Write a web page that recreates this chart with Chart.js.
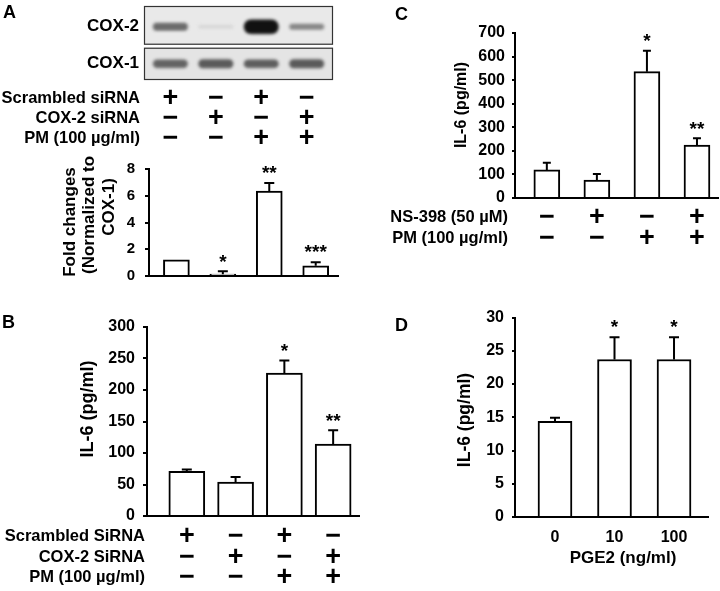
<!DOCTYPE html>
<html>
<head>
<meta charset="utf-8">
<script src="https://cdn.jsdelivr.net/npm/chart.js@4.4.1/dist/chart.umd.min.js"></script>
<style>
  html, body { margin: 0; padding: 0; background: #fff; }
  #fig { position: relative; width: 720px; height: 591px; overflow: hidden; font-family: "Liberation Sans", Arial, sans-serif; }
  #fig canvas { position: absolute; }
  .tag { position: absolute; font-weight: bold; font-size: 18px; line-height: 18px; color: #000; }
</style>
</head>
<body>
<div id="fig">
  <canvas id="blot" width="360" height="150" style="left:0;top:0"></canvas>
  <canvas id="chartA" width="360" height="145" style="left:0;top:150px"></canvas>
  <canvas id="chartB" width="360" height="296" style="left:0;top:295px"></canvas>
  <canvas id="chartC" width="360" height="250" style="left:360px;top:0"></canvas>
  <canvas id="chartD" width="360" height="291" style="left:360px;top:300px"></canvas>
  <div class="tag" style="left:3px;top:3px">A</div>
  <div class="tag" style="left:2px;top:313px">B</div>
  <div class="tag" style="left:395px;top:5px">C</div>
  <div class="tag" style="left:395px;top:316px">D</div>
</div>
<script>
const FONT = '"Liberation Sans", Arial, sans-serif';
const MINUS = '\u2212';
Chart.defaults.font.family = FONT;
Chart.defaults.font.weight = 'bold';
Chart.defaults.color = '#000';
Chart.defaults.animation = false;

// A: western blot (relative band intensity per lane)
const lanes = [1, 2, 3, 4];
const cox2Band = [0.58, 0.1, 1.0, 0.45];
const cox1Band = [0.62, 0.66, 0.64, 0.66];

// A: densitometry
const foldChange = [1.2, 0.14, 6.35, 0.76];
const foldErr = [0, 0.21, 0.6, 0.27];
const foldStars = ['', '*', '**', '***'];
const foldTicks = [0, 2, 4, 6, 8];
const rowsA = ['Scrambled siRNA', 'COX-2 siRNA', 'PM (100 µg/ml)'];
const scrambledA = ['+', MINUS, '+', MINUS];
const cox2SiA = [MINUS, '+', MINUS, '+'];
const pmA = [MINUS, MINUS, '+', '+'];

// B: IL-6 with siRNA
const il6B = [71, 54, 227, 114];
const il6BErr = [3, 8, 20, 22];
const starsB = ['', '', '*', '**'];
const ticksB = [0, 50, 100, 150, 200, 250, 300];
const rowsB = ['Scrambled SiRNA', 'COX-2 SiRNA', 'PM (100 µg/ml)'];
const scrambledB = ['+', MINUS, '+', MINUS];
const cox2SiB = [MINUS, '+', MINUS, '+'];
const pmB = [MINUS, MINUS, '+', '+'];

// C: IL-6 with NS-398
const il6C = [119, 76, 536, 225];
const il6CErr = [31, 26, 89, 28];
const starsC = ['', '', '*', '**'];
const ticksC = [0, 100, 200, 300, 400, 500, 600, 700];
const rowsC = ['NS-398 (50 µM)', 'PM (100 µg/ml)'];
const ns398C = [MINUS, '+', MINUS, '+'];
const pmC = [MINUS, MINUS, '+', '+'];

// D: IL-6 with PGE2
const pge2Dose = ['0', '10', '100'];
const il6D = [14.4, 23.7, 23.7];
const il6DErr = [0.55, 3.35, 3.35];
const starsD = ['', '*', '*'];
const ticksD = [0, 5, 10, 15, 20, 25, 30];

function bandImage(level) {
  const c = document.createElement('canvas');
  c.width = 50; c.height = 26;
  const g = c.getContext('2d');
  const shade = Math.round(232 - 215 * level);
  const h = 2.5 + 12 * Math.pow(level, 1.5);
  const w = 35;
  g.filter = 'blur(1.5px)';
  g.fillStyle = `rgb(${shade},${shade},${shade})`;
  g.beginPath();
  g.roundRect(25 - w / 2, 13 - h / 2, w, h, h / 2);
  g.fill();
  return c;
}

function drawTable(ctx, chart, rows, signs, labelX, rowY) {
  const x = chart.scales.x;
  ctx.save();
  ctx.fillStyle = '#000';
  ctx.textBaseline = 'middle';
  rows.forEach((label, r) => {
    ctx.font = `bold 16.5px ${FONT}`;
    ctx.textAlign = 'right';
    ctx.fillText(label, labelX, rowY[r]);
    ctx.font = `bold 27px ${FONT}`;
    ctx.textAlign = 'center';
    signs[r].forEach((s, i) => ctx.fillText(s, x.getPixelForValue(i + 1), rowY[r] + 1));
  });
  ctx.restore();
}

function drawVTitle(ctx, lines, size) {
  ctx.save();
  ctx.fillStyle = '#000';
  ctx.font = `bold ${size}px ${FONT}`;
  ctx.textAlign = 'center';
  ctx.textBaseline = 'middle';
  lines.forEach(l => {
    ctx.save();
    ctx.translate(l.x, l.y);
    ctx.rotate(-Math.PI / 2);
    ctx.fillText(l.text, 0, 0);
    ctx.restore();
  });
  ctx.restore();
}

const blotFrame = {
  id: 'blotFrame',
  beforeDatasetsDraw(chart) {
    const { ctx, chartArea: a, scales: { y } } = chart;
    const mid = y.getPixelForValue(0.5);
    ctx.save();
    ctx.fillStyle = '#e9e9e9';
    ctx.fillRect(a.left, a.top, a.right - a.left, mid - 0.5 - a.top);
    ctx.fillStyle = '#e4e4e4';
    ctx.fillRect(a.left, mid + 2.5, a.right - a.left, a.bottom - mid - 2.5);
    ctx.restore();
  },
  afterDatasetsDraw(chart) {
    const { ctx, chartArea: a, scales: { y } } = chart;
    const mid = y.getPixelForValue(0.5);
    ctx.save();
    ctx.strokeStyle = '#333';
    ctx.lineWidth = 1.2;
    ctx.strokeRect(a.left + 0.5, a.top + 0.5, a.right - a.left - 1, mid - 1.5 - a.top);
    ctx.strokeRect(a.left + 0.5, mid + 3, a.right - a.left - 1, a.bottom - mid - 3.5);
    ctx.fillStyle = '#000';
    ctx.font = `bold 17px ${FONT}`;
    ctx.textAlign = 'right';
    ctx.textBaseline = 'middle';
    chart.data.datasets.forEach(ds => ctx.fillText(ds.label, a.left - 5, y.getPixelForValue(ds.data[0].y)));
    ctx.restore();
    drawTable(ctx, chart, rowsA, [scrambledA, cox2SiA, pmA], 140, [98, 118, 138]);
  }
};

new Chart(document.getElementById('blot'), {
  type: 'scatter',
  data: {
    datasets: [
      { label: 'COX-2', data: lanes.map(x => ({ x, y: 1 })), pointStyle: cox2Band.map(bandImage), pointRadius: 5 },
      { label: 'COX-1', data: lanes.map(x => ({ x, y: 0 })), pointStyle: cox1Band.map(bandImage), pointRadius: 5 }
    ]
  },
  options: {
    responsive: false,
    events: [],
    layout: { padding: { left: 144, right: 27, top: 2, bottom: 70 } },
    plugins: { legend: { display: false }, tooltip: { enabled: false } },
    scales: {
      x: { type: 'linear', display: false, min: 0.42, max: 4.58 },
      y: { type: 'linear', display: false, min: -0.44, max: 1.56 }
    }
  },
  plugins: [blotFrame]
});

function barPanel(id, c) {
  const decor = {
    id: 'decor',
    afterDatasetsDraw(chart) {
      const { ctx, scales: { y } } = chart;
      const bars = chart.getDatasetMeta(0).data;
      ctx.save();
      ctx.strokeStyle = '#000';
      ctx.fillStyle = '#000';
      ctx.lineWidth = 2;
      bars.forEach((bar, i) => {
        const top = y.getPixelForValue(c.values[i] + c.errors[i]);
        if (c.errors[i] > 0) {
          ctx.beginPath();
          ctx.moveTo(bar.x, bar.y);
          ctx.lineTo(bar.x, top);
          ctx.moveTo(bar.x - c.cap, top);
          ctx.lineTo(bar.x + c.cap, top);
          ctx.stroke();
        }
        if (c.stars[i]) {
          ctx.font = `bold 19px ${FONT}`;
          ctx.textAlign = 'center';
          ctx.textBaseline = 'middle';
          ctx.fillText(c.stars[i], bar.x, top - 9);
        }
      });
      ctx.restore();
    },
    afterDraw(chart) {
      const ctx = chart.ctx;
      drawVTitle(ctx, c.yTitle, c.yTitleSize);
      if (c.table) drawTable(ctx, chart, c.table.rows, c.table.signs, c.table.labelX, c.table.rowY);
      if (c.xTitle) {
        ctx.save();
        ctx.font = `bold 17px ${FONT}`;
        ctx.textAlign = 'center';
        ctx.textBaseline = 'middle';
        ctx.fillStyle = '#000';
        ctx.fillText(c.xTitle.text, c.xTitle.x, c.xTitle.y);
        ctx.restore();
      }
    }
  };
  return new Chart(document.getElementById(id), {
    type: 'bar',
    data: {
      datasets: [{
        data: c.values.map((v, i) => ({ x: i + 1, y: v })),
        backgroundColor: '#fff',
        borderColor: '#000',
        borderWidth: 2,
        borderSkipped: 'bottom',
        barThickness: c.barWidth
      }]
    },
    options: {
      responsive: false,
      events: [],
      layout: { padding: c.pad },
      plugins: { legend: { display: false }, tooltip: { enabled: false } },
      scales: {
        x: {
          type: 'linear', min: c.xMin, max: c.xMax, offset: false,
          grid: { display: false },
          border: { color: '#000', width: 2 },
          ticks: { display: !!c.xLabels, autoSkip: false, maxRotation: 0, padding: 3, font: { size: 16 }, color: '#000',
                   callback: v => c.xLabels ? c.xLabels[v - 1] : '' },
          afterBuildTicks: s => { s.ticks = c.values.map((_, i) => ({ value: i + 1 })); },
          afterFit: s => { s.height = c.xHeight; }
        },
        y: {
          min: c.ticks[0], max: c.ticks[c.ticks.length - 1],
          afterBuildTicks: s => { s.ticks = c.ticks.map(v => ({ value: v })); },
          afterFit: s => { s.width = c.yWidth; },
          grid: { display: true, drawOnChartArea: false, drawTicks: true, tickLength: c.tickLen, color: '#000', lineWidth: 2 },
          border: { color: '#000', width: 2 },
          ticks: { autoSkip: false, z: 1, padding: c.tickPad, font: { size: c.tickSize }, color: '#000' }
        }
      }
    },
    plugins: [decor]
  });
}

barPanel('chartA', {
  values: foldChange, errors: foldErr, stars: foldStars, ticks: foldTicks,
  xMin: 0.41, xMax: 4.48, barWidth: 26, cap: 5,
  pad: { left: 0, right: 22, top: 14, bottom: 15.5 }, yWidth: 149, xHeight: 0,
  tickLen: 4, tickPad: 10, tickSize: 15,
  yTitleSize: 17,
  yTitle: [
    { text: 'Fold changes', x: 70, y: 72 },
    { text: '(Normalized to', x: 89.5, y: 65 },
    { text: 'COX-1)', x: 109, y: 57 }
  ]
});

barPanel('chartB', {
  values: il6B, errors: il6BErr, stars: starsB, ticks: ticksB,
  xMin: 0.184, xMax: 4.53, barWidth: 36, cap: 5,
  pad: { left: 0, right: 1, top: 32, bottom: 75 }, yWidth: 147, xHeight: 0,
  tickLen: 4, tickPad: 8, tickSize: 16,
  yTitleSize: 18,
  yTitle: [{ text: 'IL-6 (pg/ml)', x: 88, y: 114 }],
  table: { rows: rowsB, signs: [scrambledB, cox2SiB, pmB], labelX: 145, rowY: [241, 262, 282] }
});

barPanel('chartC', {
  values: il6C, errors: il6CErr, stars: starsC, ticks: ticksC,
  xMin: 0.364, xMax: 4.42, barWidth: 26, cap: 4,
  pad: { left: 0, right: 2, top: 33, bottom: 52 }, yWidth: 155, xHeight: 0,
  tickLen: 3, tickPad: 7, tickSize: 16,
  yTitleSize: 16,
  yTitle: [{ text: 'IL-6 (pg/ml)', x: 102, y: 105 }],
  table: { rows: rowsC, signs: [ns398C, pmC], labelX: 148, rowY: [217, 238] }
});

barPanel('chartD', {
  values: il6D, errors: il6DErr, stars: starsD, ticks: ticksD, xLabels: pge2Dose,
  xMin: 0.328, xMax: 3.571, barWidth: 34, cap: 5,
  pad: { left: 0, right: 12, top: 17, bottom: 17 }, yWidth: 155, xHeight: 57,
  tickLen: 3, tickPad: 8, tickSize: 16,
  yTitleSize: 17.5,
  yTitle: [{ text: 'IL-6 (pg/ml)', x: 105, y: 120 }],
  xTitle: { text: 'PGE2 (ng/ml)', x: 263, y: 258 }
});
</script>
</body>
</html>
